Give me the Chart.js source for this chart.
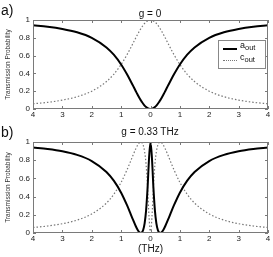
<!DOCTYPE html>
<html><head><meta charset="utf-8">
<script src="https://cdn.jsdelivr.net/npm/chart.js@4"></script>
<style>
body{margin:0;background:#fff;width:273px;height:257px;position:relative;overflow:hidden;font-family:"Liberation Sans",Arial,sans-serif;}
.abs{position:absolute;}
canvas{position:absolute;left:0;}
.panel{font-size:14px;color:#111;}
.ttl{font-size:10px;color:#111;width:120px;text-align:center;}
.leg{left:218px;top:40px;width:46px;height:27px;border:1px solid #888;background:#fff;font-size:9px;color:#111;}
.leg sub{font-size:7.5px;vertical-align:-2px;}
</style></head><body>
<canvas id="c1" width="273" height="125" style="top:0"></canvas>
<canvas id="c2" width="273" height="132" style="top:125px"></canvas>
<div class="abs panel" style="left:1px;top:2px">a)</div>
<div class="abs panel" style="left:1px;top:124px">b)</div>
<div class="abs ttl" style="left:90px;top:8px">g = 0</div>
<div class="abs ttl" style="left:90px;top:126px">g = 0.33 THz</div>
<div class="abs leg">
  <div class="abs" style="left:4px;top:7px;width:14px;border-top:2px solid #000"></div>
  <div class="abs" style="left:21px;top:-1px">a<sub>out</sub></div>
  <div class="abs" style="left:4px;top:19px;width:14px;border-top:1px dotted #777"></div>
  <div class="abs" style="left:21px;top:11px">c<sub>out</sub></div>
</div>
<script>
const xs = [-4,-3.5,-3,-2.5,-2,-1.5,-1.25,-1,-0.8,-0.7,-0.6,-0.5,-0.45,-0.4,-0.36,-0.33,-0.3,-0.25,-0.2,-0.15,-0.1,-0.05,0,
            0.05,0.1,0.15,0.2,0.25,0.3,0.33,0.36,0.4,0.45,0.5,0.6,0.7,0.8,1,1.25,1.5,2,2.5,3,3.5,4];
const aOutG0 = [0.941,0.925,0.9,0.862,0.8,0.692,0.61,0.5,0.39,0.329,0.265,0.2,0.168,0.138,0.115,0.098,0.083,0.059,0.038,0.022,0.01,0.0025,0,
                0.0025,0.01,0.022,0.038,0.059,0.083,0.098,0.115,0.138,0.168,0.2,0.265,0.329,0.39,0.5,0.61,0.692,0.8,0.862,0.9,0.925,0.941];
const cOutG0 = [0.059,0.075,0.1,0.138,0.2,0.308,0.39,0.5,0.61,0.671,0.735,0.8,0.832,0.862,0.885,0.902,0.917,0.941,0.962,0.978,0.99,0.9975,1,
                0.9975,0.99,0.978,0.962,0.941,0.917,0.902,0.885,0.862,0.832,0.8,0.735,0.671,0.61,0.5,0.39,0.308,0.2,0.138,0.1,0.075,0.059];
const aOutG33 = [0.94,0.923,0.898,0.858,0.791,0.671,0.575,0.443,0.306,0.229,0.149,0.074,0.041,0.016,0.0033,0,0.004,0.033,0.106,0.249,0.494,0.819,1,
                 0.819,0.494,0.249,0.106,0.033,0.004,0,0.0033,0.016,0.041,0.074,0.149,0.229,0.306,0.443,0.575,0.671,0.791,0.858,0.898,0.923,0.94];
const cOutG33 = [0.06,0.077,0.102,0.142,0.209,0.329,0.425,0.557,0.694,0.771,0.851,0.926,0.959,0.984,0.997,1,0.996,0.967,0.894,0.751,0.506,0.181,0,
                 0.181,0.506,0.751,0.894,0.967,0.996,1,0.997,0.984,0.959,0.926,0.851,0.771,0.694,0.557,0.425,0.329,0.209,0.142,0.102,0.077,0.06];
const yTicks = [0,0.2,0.4,0.6,0.8,1];
const xTickLabels = ['4','3','2','1','0','1','2','3','4'];

const boxTicks = {
  id:'boxTicks',
  afterDatasetsDraw(chart){
    const {ctx, chartArea:a, scales:{x,y}} = chart;
    ctx.save();
    ctx.strokeStyle='#7a7a7a'; ctx.lineWidth=1;
    ctx.strokeRect(a.left+0.5,a.top+0.5,a.right-a.left-1,a.bottom-a.top-1);
    ctx.beginPath();
    x.ticks.forEach(t=>{const p=Math.round(x.getPixelForValue(t.value))+0.5;
      ctx.moveTo(p,a.bottom);ctx.lineTo(p,a.bottom-3);ctx.moveTo(p,a.top);ctx.lineTo(p,a.top+3);});
    y.ticks.forEach(t=>{const p=Math.round(y.getPixelForValue(t.value))+0.5;
      ctx.moveTo(a.left,p);ctx.lineTo(a.left+3,p);ctx.moveTo(a.right,p);ctx.lineTo(a.right-3,p);});
    ctx.stroke();
    ctx.restore();
  }
};

function makeChart(id, aData, cData, topPad, xHeight, showXTitle){
  return new Chart(document.getElementById(id), {
    type:'line',
    data:{datasets:[
      {data:xs.map((x,i)=>({x,y:aData[i]})),borderColor:'#000',borderWidth:2,pointRadius:0,cubicInterpolationMode:'monotone',fill:false},
      {data:xs.map((x,i)=>({x,y:cData[i]})),borderColor:'#777',borderWidth:1.2,borderDash:[1.5,2],pointRadius:0,cubicInterpolationMode:'monotone',fill:false}
    ]},
    options:{
      responsive:false, animation:false, devicePixelRatio:1,
      layout:{padding:{top:topPad,right:5,left:0,bottom:0}},
      plugins:{legend:{display:false},tooltip:{enabled:false},title:{display:false}},
      scales:{
        x:{type:'linear',min:-4,max:4,
           grid:{display:false,drawTicks:false},border:{display:false},
           afterBuildTicks(s){s.ticks = xTickLabels.map((l,i)=>({value:i-4}));},
           ticks:{stepSize:1,padding:1,maxRotation:0,autoSkip:false,color:'#222',font:{size:8,family:'Liberation Sans'},
                  callback:(v,i)=>xTickLabels[i]},
           title:{display:showXTitle,text:'(THz)',color:'#111',font:{size:10,family:'Liberation Sans'},padding:{top:0,bottom:2}},
           afterFit(s){s.height=xHeight;}},
        y:{min:0,max:1,
           grid:{display:false,drawTicks:false},border:{display:false},
           afterBuildTicks(s){s.ticks = yTicks.map(v=>({value:v}));},
           ticks:{padding:3,color:'#222',font:{size:8,family:'Liberation Sans'},callback:v=>String(v)},
           title:{display:true,text:'Transmission Probability',color:'#333',font:{size:6.5,family:'Liberation Sans'},padding:4},
           afterFit(s){s.width=33;}}
      }
    },
    plugins:[boxTicks]
  });
}
makeChart('c1', aOutG0, cOutG0, 20, 16, false);
makeChart('c2', aOutG33, cOutG33, 17, 24, true);
</script>
</body></html>
